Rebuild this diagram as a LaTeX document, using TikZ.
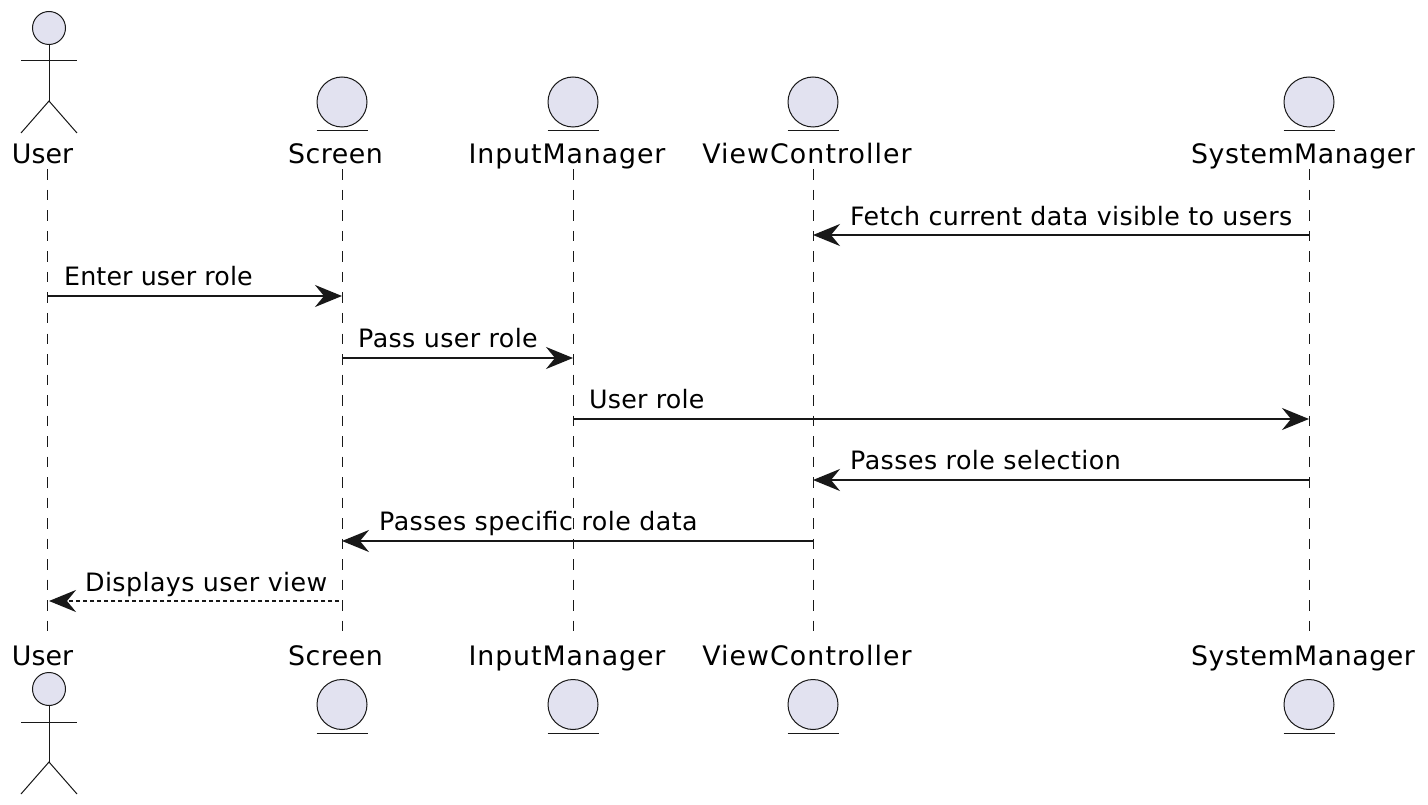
\documentclass[tikz,border=0pt]{standalone}
\usepackage{fontspec}
\setmainfont{DejaVu Sans}
\usepackage{xcolor}
\usetikzlibrary{arrows.meta}
\definecolor{partfill}{HTML}{E2E2F0}
\definecolor{partline}{HTML}{181818}
\newcommand{\esp}[1]{\addfontfeature{LetterSpace=#1}}
\tikzset{
  nome/.style={anchor=base, inner sep=0pt, font=\fontsize{26.8}{30}\selectfont},
  texto/.style={anchor=base west, inner sep=0pt, font=\fontsize{25.3}{30}\selectfont},
  vida/.style={draw=partline, line width=1pt, dash pattern=on 10.5pt off 10pt},
  seta/.style={draw=partline, line width=2pt, -{Stealth[length=27pt,width=22pt,inset=9pt]}},
  retorno/.style={seta, dash pattern=on 4pt off 3pt, shorten >=2pt, shorten <=3pt},
  corpo/.style={draw=partline, line width=1pt},
  cabeca/.style={circle, draw=partline, fill=partfill, line width=1pt, inner sep=0pt, minimum size=#1},
}
\begin{document}
\begin{tikzpicture}[x=1pt,y=-1pt]
  \useasboundingbox (0,0) rectangle (1428,805);
  % lifelines
  \coordinate (u1) at (47,169.5);   \coordinate (u2) at (47,638);
  \coordinate (s1) at (342,169.5);  \coordinate (s2) at (342,638);
  \coordinate (i1) at (573,169.5);  \coordinate (i2) at (573,638);
  \coordinate (v1) at (813,169.5);  \coordinate (v2) at (813,638);
  \coordinate (m1) at (1309,169.5); \coordinate (m2) at (1309,638);
  \draw[vida] (u1) -- (u2);
  \draw[vida] (s1) -- (s2);
  \draw[vida] (i1) -- (i2);
  \draw[vida] (v1) -- (v2);
  \draw[vida] (m1) -- (m2);
  % names, top and bottom
  \foreach \nm/\x/\ls/\txt in {u/42.5/0/User, s/335.5/1.9/Screen, i/567/3.4/InputManager, v/807/4/ViewController, m/1303/2/SystemManager}{
    \node[nome] (\nm top) at (\x,163.5) {\esp{\ls}\txt};
    \node[nome] (\nm bot) at (\x,665) {\esp{\ls}\txt};
  }
  % actor
  \foreach \nm/\y in {a/28, b/689}{
    \node[cabeca=33pt] (head\nm) at (49,\y) {};
    \coordinate (arml\nm) at (21,\y+33);
    \coordinate (armr\nm) at (77,\y+33);
    \coordinate (hip\nm) at (49,\y+73);
    \coordinate (footl\nm) at (21,\y+105);
    \coordinate (footr\nm) at (77,\y+105);
    \draw[corpo] (head\nm) -- (hip\nm);
    \draw[corpo] (arml\nm) -- (armr\nm);
    \draw[corpo] (footl\nm) -- (hip\nm) -- (footr\nm);
  }
  % entities
  \foreach \nm/\x in {s/342, i/573, v/813, m/1309}{
    \node[cabeca=50pt] (ea\nm) at (\x,102) {};
    \node[cabeca=50pt] (eb\nm) at (\x,704.5) {};
    \draw[corpo] (\x-25.5,131) -- (\x+25.5,131);
    \draw[corpo] (\x-25.5,733) -- (\x+25.5,733);
  }
  % messages
  \coordinate (r1) at (0,235);
  \coordinate (r2) at (0,296);
  \coordinate (r3) at (0,358);
  \coordinate (r4) at (0,419);
  \coordinate (r5) at (0,480);
  \coordinate (r6) at (0,541);
  \coordinate (r7) at (0,601);
  \draw[seta] (m1 |- r1) -- (v1 |- r1);
  \draw[seta] (u1 |- r2) -- (s1 |- r2);
  \draw[seta] (s1 |- r3) -- (i1 |- r3);
  \draw[seta] (i1 |- r4) -- (m1 |- r4);
  \draw[seta] (m1 |- r5) -- (v1 |- r5);
  \draw[seta] (v1 |- r6) -- (s1 |- r6);
  \draw[retorno] (s1 |- r7) -- (u1 |- r7);
  \node[texto] (t1) at (850,226) {\esp{1.4}Fetch current data visible to users};
  \node[texto] (t2) at (64,286) {\esp{0.5}Enter user role};
  \node[texto] (t3) at (358,348) {\esp{1.6}Pass user role};
  \node[texto] (t4) at (589,408) {\esp{0.9}User role};
  \node[texto] (t5) at (850,469) {\esp{1.8}Passes role selection};
  \node[texto] (t6) at (379,530) {\esp{1.8}Passes specific role data};
  \node[texto] (t7) at (85,591) {\esp{1.6}Displays user view};
\end{tikzpicture}
\end{document}
